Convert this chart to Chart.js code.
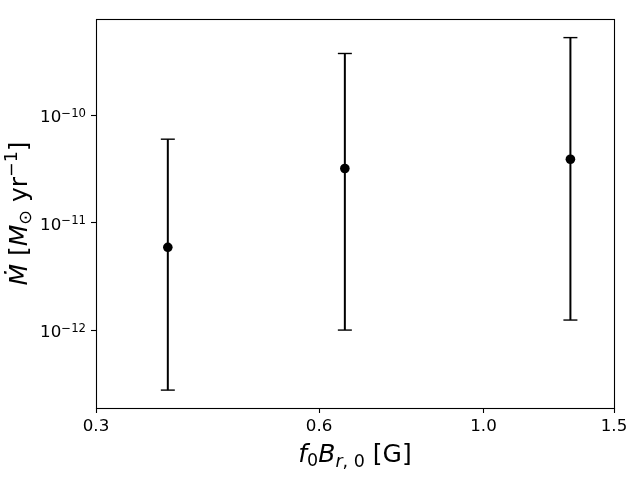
<!DOCTYPE html>
<html>
<head>
<meta charset="utf-8">
<script src="https://cdn.jsdelivr.net/npm/chart.js@4/dist/chart.umd.min.js"></script>
<style>
  html, body { margin: 0; padding: 0; background: #fff; }
  #wrap { width: 640px; height: 480px; }
</style>
</head>
<body>
<div id="wrap"><canvas id="chart" width="640" height="480"></canvas></div>
<script>
// values
const xValues = [0.375, 0.65, 1.31];
const yValues = [5.9e-12, 3.2e-11, 3.9e-11];
const yLower = [2.76e-13, 1.0e-12, 1.24e-12];
const yUpper = [6.0e-11, 3.77e-10, 5.3e-10];

const xTicks = [0.3, 0.6, 1.0, 1.5];
const yTicks = [1e-12, 1e-11, 1e-10];
const yTickExponents = ['\u221212', '\u221211', '\u221210'];
const xLimits = [0.3, 1.5];
const yLimits = [1.88e-13, 7.9e-10];

const FONT = '"DejaVu Sans", sans-serif';
Chart.defaults.font.family = FONT;
Chart.defaults.color = '#000';

// draw a line of mixed text pieces (italic, sub/superscript), centred on cx
function drawRuns(ctx, runs, cx, baseY) {
  let total = 0;
  runs.forEach(r => {
    ctx.font = (r.i ? 'italic ' : '') + r.s + 'px ' + FONT;
    r.w = ctx.measureText(r.t).width;
    total += r.w;
  });
  let x = cx - total / 2;
  ctx.textAlign = 'left';
  ctx.textBaseline = 'alphabetic';
  runs.forEach(r => {
    ctx.font = (r.i ? 'italic ' : '') + r.s + 'px ' + FONT;
    ctx.fillText(r.t, x, baseY + (r.dy || 0));
    x += r.w;
  });
}

const labelsPlugin = {
  id: 'labels',
  afterDraw(chart) {
    const ctx = chart.ctx;
    const area = chart.chartArea;
    const yScale = chart.scales.y;
    ctx.save();
    ctx.fillStyle = '#000';

    // frame
    ctx.strokeStyle = '#000';
    ctx.lineWidth = 1.1;
    ctx.strokeRect(area.left + 0.5, area.top + 0.5, area.right - area.left, area.bottom - area.top);

    // y tick labels 10^n
    yTicks.forEach((v, i) => {
      const py = yScale.getPixelForValue(v);
      const right = area.left - 10;
      ctx.textBaseline = 'alphabetic';
      ctx.textAlign = 'right';
      ctx.font = '11.7px ' + FONT;
      const ew = ctx.measureText(yTickExponents[i]).width;
      ctx.fillText(yTickExponents[i], right, py + 1.5);
      ctx.font = '16.7px ' + FONT;
      ctx.fillText('10', right - ew, py + 7);
    });

    // x axis title
    const L = 25, S = 17.5;
    drawRuns(ctx, [
      { t: 'f', s: L, i: true },
      { t: '0', s: S, dy: 4 },
      { t: 'B', s: L, i: true },
      { t: 'r', s: S, i: true, dy: 4.5 },
      { t: ', 0', s: S, dy: 4.5 },
      { t: ' [G]', s: L }
    ], (area.left + area.right) / 2, 462);

    // y axis title
    ctx.save();
    ctx.translate(27, (area.top + area.bottom) / 2);
    ctx.rotate(-Math.PI / 2);
    drawRuns(ctx, [
      { t: '\u1E40', s: L, i: true },
      { t: ' [', s: L },
      { t: 'M', s: L, i: true },
      { t: '\u2299', s: S, dy: 4 },
      { t: ' yr', s: L },
      { t: '\u22121', s: S, dy: -10 },
      { t: ']', s: L }
    ], 0, 0);
    ctx.restore();

    ctx.restore();
  }
};

const datasets = [];
xValues.forEach((x, i) => {
  datasets.push({
    data: [{ x: x, y: yLower[i] }, { x: x, y: yUpper[i] }],
    showLine: true,
    borderColor: '#000',
    borderWidth: 2,
    pointStyle: 'line',
    pointRadius: 7,
    pointBorderWidth: 1.4,
    pointBorderColor: '#000',
    order: 2
  });
});
datasets.push({
  data: xValues.map((x, i) => ({ x: x, y: yValues[i] })),
  backgroundColor: '#000',
  borderColor: '#000',
  pointRadius: 4.8,
  pointBorderWidth: 0,
  order: 1
});

new Chart(document.getElementById('chart'), {
  type: 'scatter',
  data: { datasets: datasets },
  plugins: [labelsPlugin],
  options: {
    responsive: false,
    animation: false,
    events: [],
    layout: { padding: { top: 19, right: 26, left: 0, bottom: 0 } },
    plugins: { legend: { display: false }, tooltip: { enabled: false } },
    scales: {
      x: {
        type: 'logarithmic',
        min: xLimits[0],
        max: xLimits[1],
        afterBuildTicks: scale => { scale.ticks = xTicks.map(v => ({ value: v })); },
        afterFit: scale => { scale.height = 72; },
        border: { display: false },
        grid: { drawOnChartArea: false, drawTicks: true, tickLength: 5, tickColor: '#000', tickWidth: 1.1 },
        ticks: {
          autoSkip: false,
          maxRotation: 0,
          padding: 4,
          color: '#000',
          font: { size: 16.7 },
          callback: v => Number(v).toFixed(1)
        }
      },
      y: {
        type: 'logarithmic',
        min: yLimits[0],
        max: yLimits[1],
        afterBuildTicks: scale => { scale.ticks = yTicks.map(v => ({ value: v })); },
        afterFit: scale => { scale.width = 96; },
        border: { display: false },
        grid: { drawOnChartArea: false, drawTicks: true, tickLength: 5, tickColor: '#000', tickWidth: 1.1 },
        ticks: {
          autoSkip: false,
          color: 'rgba(0,0,0,0)',
          callback: () => ''
        }
      }
    }
  }
});
</script>
</body>
</html>
